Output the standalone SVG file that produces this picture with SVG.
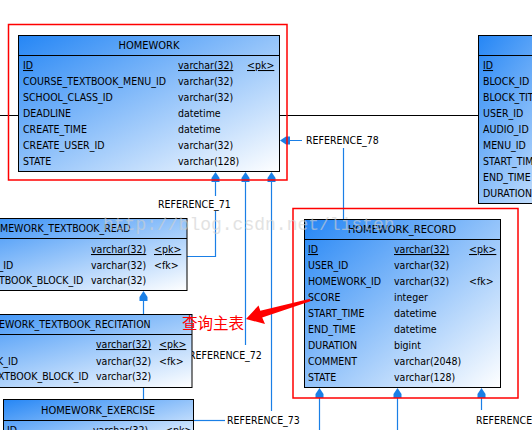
<svg xmlns="http://www.w3.org/2000/svg" width="532" height="430" viewBox="0 0 532 430">
<defs>
<linearGradient id="g" x1="0" y1="0" x2="1" y2="1">
<stop offset="0" stop-color="#2586f5"/>
<stop offset="1" stop-color="#ffffff"/>
</linearGradient>
<polygon id="ah" points="0,0 4,6 4,10 -4,10 -4,6" fill="#1a7fe6"/>
</defs>
<style>
.t{font-family:"DejaVu Sans Condensed","DejaVu Sans",sans-serif;font-size:10.5px;fill:#000}
.h{font-size:11px;text-anchor:middle}
.u{text-decoration:underline}
.box{fill:url(#g);stroke:#000;stroke-width:1}
.hl{stroke:#000;stroke-width:1}
.c{stroke:#1a7fe6;stroke-width:1.2;fill:none}
.k{stroke:#000;stroke-width:1;fill:none}
.r{fill:none;stroke:#f00;stroke-width:1.5}
.wm{font-family:"Liberation Mono",monospace;font-size:18px;fill:#d0d0d0;opacity:.6}
.an{font-family:"Noto Sans CJK SC",sans-serif;font-size:15.5px;fill:#f00}
</style>
<rect width="532" height="430" fill="#fff"/>

<g id="connectors">
<path class="k" d="M0,115.5H18.5M279.5,115.5H478.5"/>
<path class="c" d="M215.5,181V196M215.5,211V256.5H187"/>
<path class="c" d="M245.5,181V345"/>
<path class="c" d="M271.5,181V411"/>
<path class="c" d="M289,140.5H302M343.5,148V219"/>
<path class="c" d="M143.5,299V314M143.5,387V399"/>
<path class="c" d="M193,420.5H225"/>
<path class="c" d="M319.5,397V430M397.5,397V430M481.5,397V410"/>
<use href="#ah" transform="translate(215.5,172)"/>
<use href="#ah" transform="translate(245.5,172)"/>
<use href="#ah" transform="translate(271.5,172)"/>
<use href="#ah" transform="translate(280,140.5) rotate(-90)"/>
<use href="#ah" transform="translate(143.5,291)"/>
<use href="#ah" transform="translate(319.5,388)"/>
<use href="#ah" transform="translate(397.5,388)"/>
<use href="#ah" transform="translate(481.5,388)"/>
<text class="t" x="158" y="208">REFERENCE_71</text>
<text class="t" x="189" y="359">REFERENCE_72</text>
<text class="t" x="227" y="424">REFERENCE_73</text>
<text class="t" x="306" y="144">REFERENCE_78</text>
<text class="t" x="476" y="424">REFERENCE</text>
</g>

<g id="homework">
<rect class="box" x="18.5" y="35.5" width="261" height="136"/>
<path class="hl" d="M18.5,55.5H279.5"/>
<text class="t h" x="149" y="49">HOMEWORK</text>
<g class="t">
<text x="23" y="69" class="u">ID</text><text x="178" y="69" class="u">varchar(32)</text><text x="247" y="69" class="u">&lt;pk&gt;</text>
<text x="23" y="85">COURSE_TEXTBOOK_MENU_ID</text><text x="178" y="85">varchar(32)</text>
<text x="23" y="101">SCHOOL_CLASS_ID</text><text x="178" y="101">varchar(32)</text>
<text x="23" y="117">DEADLINE</text><text x="178" y="117">datetime</text>
<text x="23" y="133">CREATE_TIME</text><text x="178" y="133">datetime</text>
<text x="23" y="149">CREATE_USER_ID</text><text x="178" y="149">varchar(32)</text>
<text x="23" y="165">STATE</text><text x="178" y="165">varchar(128)</text>
</g>
</g>

<g id="block_table">
<rect class="box" x="478.5" y="35.5" width="130" height="168"/>
<path class="hl" d="M478.5,55.5H532"/>
<g class="t">
<text x="483" y="69" class="u">ID</text>
<text x="483" y="85">BLOCK_ID</text>
<text x="483" y="101">BLOCK_TIT</text>
<text x="483" y="117">USER_ID</text>
<text x="483" y="133">AUDIO_ID</text>
<text x="483" y="149">MENU_ID</text>
<text x="483" y="165">START_TIM</text>
<text x="483" y="181">END_TIME</text>
<text x="483" y="197">DURATION</text>
</g>
</g>

<g id="homework_record">
<rect class="box" x="304.5" y="219.5" width="196" height="168"/>
<path class="hl" d="M304.5,239.5H500.5"/>
<text class="t h" x="402" y="233">HOMEWORK_RECORD</text>
<g class="t">
<text x="308" y="253" class="u">ID</text><text x="394" y="253" class="u">varchar(32)</text><text x="469" y="253" class="u">&lt;pk&gt;</text>
<text x="308" y="269">USER_ID</text><text x="394" y="269">varchar(32)</text>
<text x="308" y="285">HOMEWORK_ID</text><text x="394" y="285">varchar(32)</text><text x="469" y="285">&lt;fk&gt;</text>
<text x="308" y="301">SCORE</text><text x="394" y="301">integer</text>
<text x="308" y="317">START_TIME</text><text x="394" y="317">datetime</text>
<text x="308" y="333">END_TIME</text><text x="394" y="333">datetime</text>
<text x="308" y="349">DURATION</text><text x="394" y="349">bigint</text>
<text x="308" y="365">COMMENT</text><text x="394" y="365">varchar(2048)</text>
<text x="308" y="381">STATE</text><text x="394" y="381">varchar(128)</text>
</g>
</g>

<g id="homework_textbook_read">
<rect class="box" x="-60" y="218.5" width="247" height="72"/>
<path class="hl" d="M0,238.5H187"/>
<g class="t">
<text x="0" y="232">MEWORK_TEXTBOOK_READ</text>
<text x="91" y="253" class="u">varchar(32)</text><text x="154" y="253" class="u">&lt;pk&gt;</text>
<text x="-1.5" y="268.5">_ID</text><text x="91" y="268.5">varchar(32)</text><text x="154" y="268.5">&lt;fk&gt;</text>
<text x="-1" y="284">TBOOK_BLOCK_ID</text><text x="91" y="284">varchar(32)</text>
</g>
</g>

<g id="homework_textbook_recitation">
<rect class="box" x="-80" y="314.5" width="272" height="73"/>
<path class="hl" d="M0,334.5H192"/>
<g class="t">
<text x="-1" y="328">EWORK_TEXTBOOK_RECITATION</text>
<text x="96" y="348" class="u">varchar(32)</text><text x="159" y="348" class="u">&lt;pk&gt;</text>
<text x="-3" y="364.5">K_ID</text><text x="96" y="364.5">varchar(32)</text><text x="159" y="364.5">&lt;fk&gt;</text>
<text x="-2" y="380">XTBOOK_BLOCK_ID</text><text x="96" y="380">varchar(32)</text>
</g>
</g>

<g id="homework_exercise">
<rect class="box" x="3.5" y="399.5" width="190" height="50"/>
<path class="hl" d="M3.5,420.5H193.5"/>
<text class="t h" x="98" y="414">HOMEWORK_EXERCISE</text>
<g class="t">
<text x="7" y="434" class="u">ID</text><text x="93" y="434" class="u">varchar(32)</text><text x="165" y="434" class="u">&lt;pk&gt;</text>
</g>
</g>

<g id="annotation">
<rect class="r" x="8.5" y="24.5" width="278.5" height="155.5"/>
<rect class="r" x="293" y="208.5" width="225" height="189.5"/>
<polygon points="246,319 258.5,305.5 260.3,310.8 310,298.8 310.4,301.2 262.2,317.5 265,324" fill="#f00"/>
<text class="an" x="182" y="329">查询主表</text>
</g>

<text class="wm" x="103" y="230">http://blog.csdn.net/listen</text>
</svg>
